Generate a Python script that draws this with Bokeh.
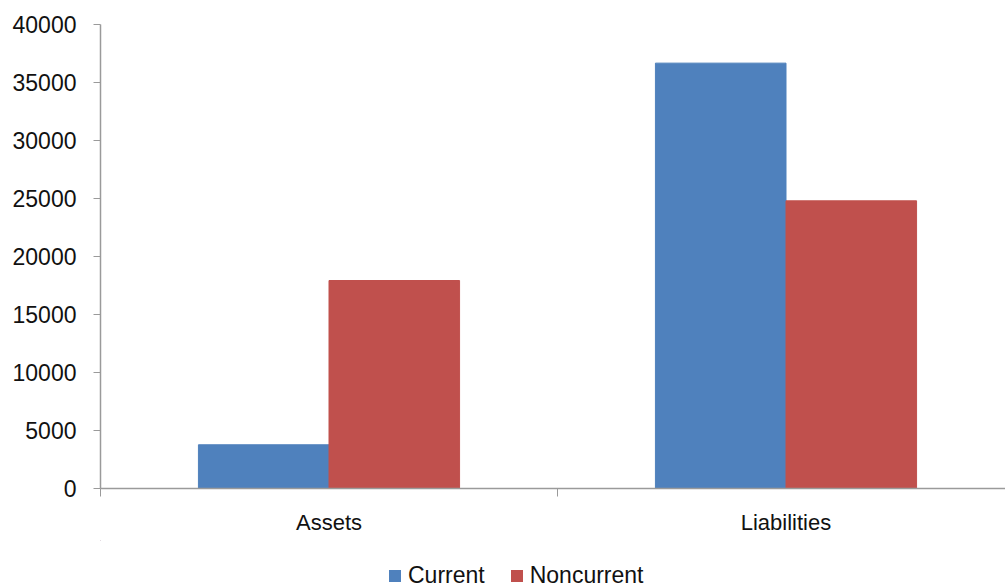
from bokeh.plotting import figure
from bokeh.models import ColumnDataSource, Range1d, FixedTicker, Legend, LegendItem
from bokeh.layouts import column
from bokeh.transform import dodge
from bokeh.embed import file_html
from bokeh.resources import INLINE

categories = ["Assets", "Liabilities"]
series = ["Current", "Noncurrent"]
current = [3770, 36670]
noncurrent = [17930, 24800]
y_ticks = [0, 5000, 10000, 15000, 20000, 25000, 30000, 35000, 40000]
colors = ["#4F81BD", "#C0504D"]

xpos = [i + 0.5 for i in range(len(categories))]
src = ColumnDataSource(dict(x=xpos, current=current, noncurrent=noncurrent))

FONT = "Liberation Sans"
AXIS_COLOR = "#9a9a9a"
TEXT_COLOR = "#111111"

p = figure(width=1005, height=540, output_backend="svg", toolbar_location=None,
           x_range=Range1d(0, 905 / 457), y_range=Range1d(0, 40000),
           min_border_left=100, min_border_right=0, min_border_top=24, min_border_bottom=52)
p.outline_line_color = None
p.xgrid.visible = False
p.ygrid.visible = False

bw = 1 / 3.5
p.vbar(x=dodge("x", -bw / 2, range=p.x_range), top="current", width=bw, source=src,
       fill_color=colors[0], line_color=colors[0])
p.vbar(x=dodge("x", bw / 2, range=p.x_range), top="noncurrent", width=bw, source=src,
       fill_color=colors[1], line_color=colors[1])

# x axis
xa = p.xaxis[0]
xa.ticker = FixedTicker(ticks=xpos, minor_ticks=[float(i) for i in range(len(categories) + 1)])
xa.major_label_overrides = {x: c for x, c in zip(xpos, categories)}
xa.major_tick_in = 0
xa.major_tick_out = 0
xa.minor_tick_in = 0
xa.minor_tick_out = 8
xa.minor_tick_line_color = AXIS_COLOR
xa.axis_line_color = AXIS_COLOR
xa.axis_line_width = 1.5
xa.major_label_standoff = 13
xa.major_label_text_font = FONT
xa.major_label_text_font_size = "22px"
xa.major_label_text_color = TEXT_COLOR

# y axis
ya = p.yaxis[0]
ya.ticker = FixedTicker(ticks=y_ticks)
ya.major_tick_in = 0
ya.major_tick_out = 7
ya.minor_tick_out = 0
ya.minor_tick_in = 0
ya.major_tick_line_color = AXIS_COLOR
ya.axis_line_color = AXIS_COLOR
ya.axis_line_width = 1.5
ya.major_label_standoff = 17
ya.major_label_text_font = FONT
ya.major_label_text_font_size = "23px"
ya.major_label_text_color = TEXT_COLOR

# legend strip below the chart (same series, placed far outside its visible ranges)
pl = figure(width=1005, height=48, output_backend="svg", toolbar_location=None,
            x_range=Range1d(100, 101), y_range=Range1d(-300000, -200000),
            min_border_left=0, min_border_right=0, min_border_top=0, min_border_bottom=0)
pl.outline_line_color = None
pl.axis.visible = False
pl.xgrid.visible = False
pl.ygrid.visible = False
lr = [pl.vbar(x="x", top=col, width=bw, source=src, fill_color=c, line_color=None)
      for col, c in zip(["current", "noncurrent"], colors)]

legend = Legend(items=[LegendItem(label=s, renderers=[r]) for s, r in zip(series, lr)],
                orientation="horizontal", location=(287, -1))
legend.border_line_color = None
legend.background_fill_alpha = 0
legend.label_text_font = FONT
legend.label_text_font_size = "23px"
legend.label_text_color = TEXT_COLOR
legend.glyph_width = 15
legend.glyph_height = 15
legend.spacing = 24
legend.label_standoff = 6
legend.margin = 0
legend.padding = 0
pl.add_layout(legend, "center")

layout = column(p, pl, spacing=0)
open("out.html", "w").write(file_html(layout, INLINE))
